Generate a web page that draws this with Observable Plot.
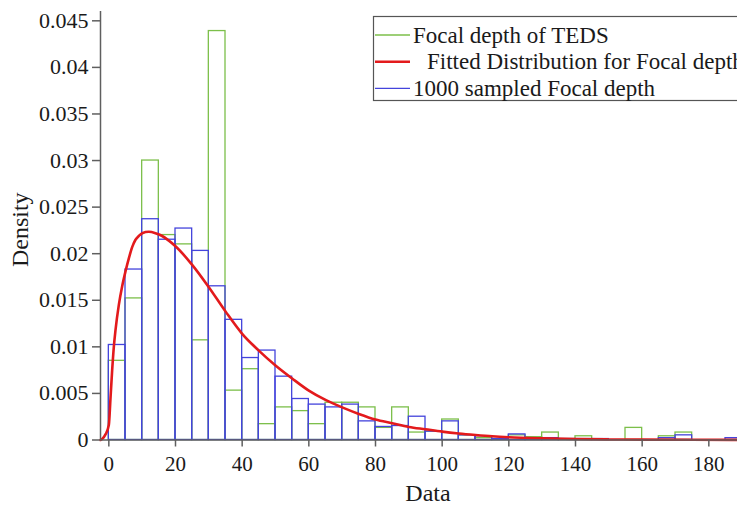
<!DOCTYPE html>
<html>
<head>
<meta charset="utf-8">
<script src="https://cdn.jsdelivr.net/npm/d3@7"></script>
<script src="https://cdn.jsdelivr.net/npm/@observablehq/plot@0.6"></script>
<style>
  html, body { margin: 0; padding: 0; background: #fff; overflow: hidden; }
  #chart { width: 737px; height: 511px; overflow: hidden; }
  #chart svg { display: block; max-width: none !important; height: 511px !important; }
</style>
</head>
<body>
<div id="chart"></div>
<script>
// Histogram bins (left edges, width 5 km)
const binStart = [0, 5, 10, 15, 20, 25, 30, 35, 40, 45, 50, 55, 60, 65, 70, 75, 80, 85, 90, 95,
                  100, 105, 110, 115, 120, 125, 130, 135, 140, 145, 150, 155, 160, 165, 170, 175, 180, 185];
const binWidth = 5;

// Observed focal depth density (TEDS catalogue)
const tedsDensity = [0.0085, 0.0152, 0.0300, 0.0220, 0.0210, 0.0107, 0.0439, 0.0053, 0.0076, 0.0017,
                     0.0035, 0.0031, 0.0017, 0.0040, 0.0040, 0.0035, 0.0013, 0.0035, 0.0008, 0.0009,
                     0.0022, 0.0005, 0.0002, 0.0001, 0.0005, 0.0003, 0.0008, 0.0001, 0.0004, 0.0000,
                     0.0000, 0.0013, 0.0000, 0.0004, 0.0008, 0.0000, 0.0000, 0.0000];

// Density of 1000 focal depths sampled from the fitted distribution
const sampledDensity = [0.0102, 0.0183, 0.0237, 0.0215, 0.0227, 0.0203, 0.0165, 0.0129, 0.0088, 0.0096,
                        0.0068, 0.0044, 0.0038, 0.0035, 0.0038, 0.0020, 0.0014, 0.0015, 0.0025, 0.0009,
                        0.0020, 0.0005, 0.0004, 0.0001, 0.0006, 0.0002, 0.0002, 0.0001, 0.0001, 0.0001,
                        0.0000, 0.0000, 0.0000, 0.0002, 0.0005, 0.0000, 0.0000, 0.0002];

// Fitted probability density curve
const fitDepth = [-2.5, -2, -1, 0, 0.5, 1, 1.5, 2, 3, 4, 5, 6, 7, 8, 9, 10, 12, 14, 16, 18, 20,
                  25, 30, 35, 40, 45, 50, 55, 60, 65, 70, 75, 80, 85, 90, 95, 100, 105, 110, 115,
                  120, 130, 140, 150, 160, 175, 194];
const fitDensity = [0, 0.0001, 0.0006, 0.0016, 0.0045, 0.0075, 0.0100, 0.0118, 0.0145, 0.0165, 0.0181,
                    0.0195, 0.0207, 0.0215, 0.0219, 0.0222, 0.02235, 0.0222, 0.0219, 0.0214, 0.0208,
                    0.0188, 0.0164, 0.0138, 0.0114, 0.0096, 0.0080, 0.0066, 0.0053, 0.0043, 0.0035,
                    0.0028, 0.0022, 0.0018, 0.0014, 0.00115, 0.0009, 0.0007, 0.00054, 0.0004,
                    0.0003, 0.00018, 0.0001, 0.00006, 0.00004, 0.00002, 0.00001];

// Axis ticks
const xTickValues = [0, 20, 40, 60, 80, 100, 120, 140, 160, 180];
const yTickValues = [0, 0.005, 0.01, 0.015, 0.02, 0.025, 0.03, 0.035, 0.04, 0.045];
const yTickLabels = ["0", "0.005", "0.01", "0.015", "0.02", "0.025", "0.03", "0.035", "0.04", "0.045"];

// Legend entries
const legendLabels = ["Focal depth of TEDS", "Fitted Distribution for Focal depth", "1000 sampled Focal depth"];

const SERIF = "'Liberation Serif', 'Times New Roman', serif";
const GREEN = "#7cbf4a", BLUE = "#4444dc", RED = "#e31a1c", AXIS = "#5f5f5f", INK = "#1a1a1a";
const X_MIN = -2.5, X_MAX = 194, Y_MAX = 0.046;

const bins = binStart.map((b, i) => ({x1: b, x2: b + binWidth, teds: tedsDensity[i], sampled: sampledDensity[i]}));
const fit = fitDepth.map((d, i) => ({x: d, y: fitDensity[i]}));

const chart = Plot.plot({
  width: 760,
  height: 511,
  marginLeft: 100,
  marginRight: 5,
  marginTop: 11,
  marginBottom: 71.5,
  style: {fontSize: "21px", background: "#fff", color: INK},
  x: {domain: [X_MIN, X_MAX]},
  y: {domain: [0, Y_MAX]},
  marks: [
    Plot.rectY(bins, {x1: "x1", x2: "x2", y: "teds", fill: "none", stroke: GREEN, strokeWidth: 1.3}),
    Plot.rectY(bins, {x1: "x1", x2: "x2", y: "sampled", fill: "none", stroke: BLUE, strokeWidth: 1.3}),
    Plot.line(fit, {x: "x", y: "y", stroke: RED, strokeWidth: 2.6, curve: "monotone-x"}),
    Plot.ruleY([0], {x1: X_MIN, x2: X_MAX, stroke: AXIS, strokeWidth: 1.5}),
    Plot.ruleX([X_MIN], {y1: 0, y2: Y_MAX, stroke: AXIS, strokeWidth: 1.5}),
    Plot.axisX({ticks: xTickValues, tickSize: 7, tickPadding: 9, stroke: AXIS, strokeWidth: 1.5,
                fill: INK, fontSize: 21, label: null}),
    Plot.axisY({ticks: yTickValues, tickFormat: (d, i) => yTickLabels[i], tickSize: 8, tickPadding: 4,
                stroke: AXIS, strokeWidth: 1.5, fill: INK, fontSize: 22, label: null}),
    Plot.text(["Data"], {frameAnchor: "bottom", dy: 61, fontSize: 24, fill: INK}),
    Plot.text(["Density"], {frameAnchor: "left", dx: -80, dy: 4, rotate: -90, textAnchor: "middle",
                            fontSize: 24, fill: INK})
  ]
});

document.getElementById("chart").appendChild(chart);

// Legend box in the upper right corner of the axes
const svg = d3.select(chart);
const lg = svg.append("g")
  .attr("font-size", 23)
  .attr("text-anchor", "start");
lg.append("rect").attr("x", 373.5).attr("y", 16.5).attr("width", 380).attr("height", 84)
  .attr("fill", "#fff").attr("stroke", "#555").attr("stroke-width", 1.2);
const rows = [
  {label: legendLabels[0], color: GREEN, width: 1.3, y: 35, tx: 413},
  {label: legendLabels[1], color: RED, width: 2.6, y: 61.7, tx: 427},
  {label: legendLabels[2], color: BLUE, width: 1.3, y: 88.3, tx: 413}
];
rows.forEach(r => {
  lg.append("line").attr("x1", 375).attr("x2", 410).attr("y1", r.y).attr("y2", r.y)
    .attr("stroke", r.color).attr("stroke-width", r.width);
  lg.append("text").attr("x", r.tx).attr("y", r.y + 7.5).attr("fill", INK).text(r.label);
});

// Every label uses the same Times-style serif face, set inline so nothing overrides it
svg.selectAll("text")
  .style("font-family", SERIF)
  .style("font-variant", "normal");
</script>
</body>
</html>
